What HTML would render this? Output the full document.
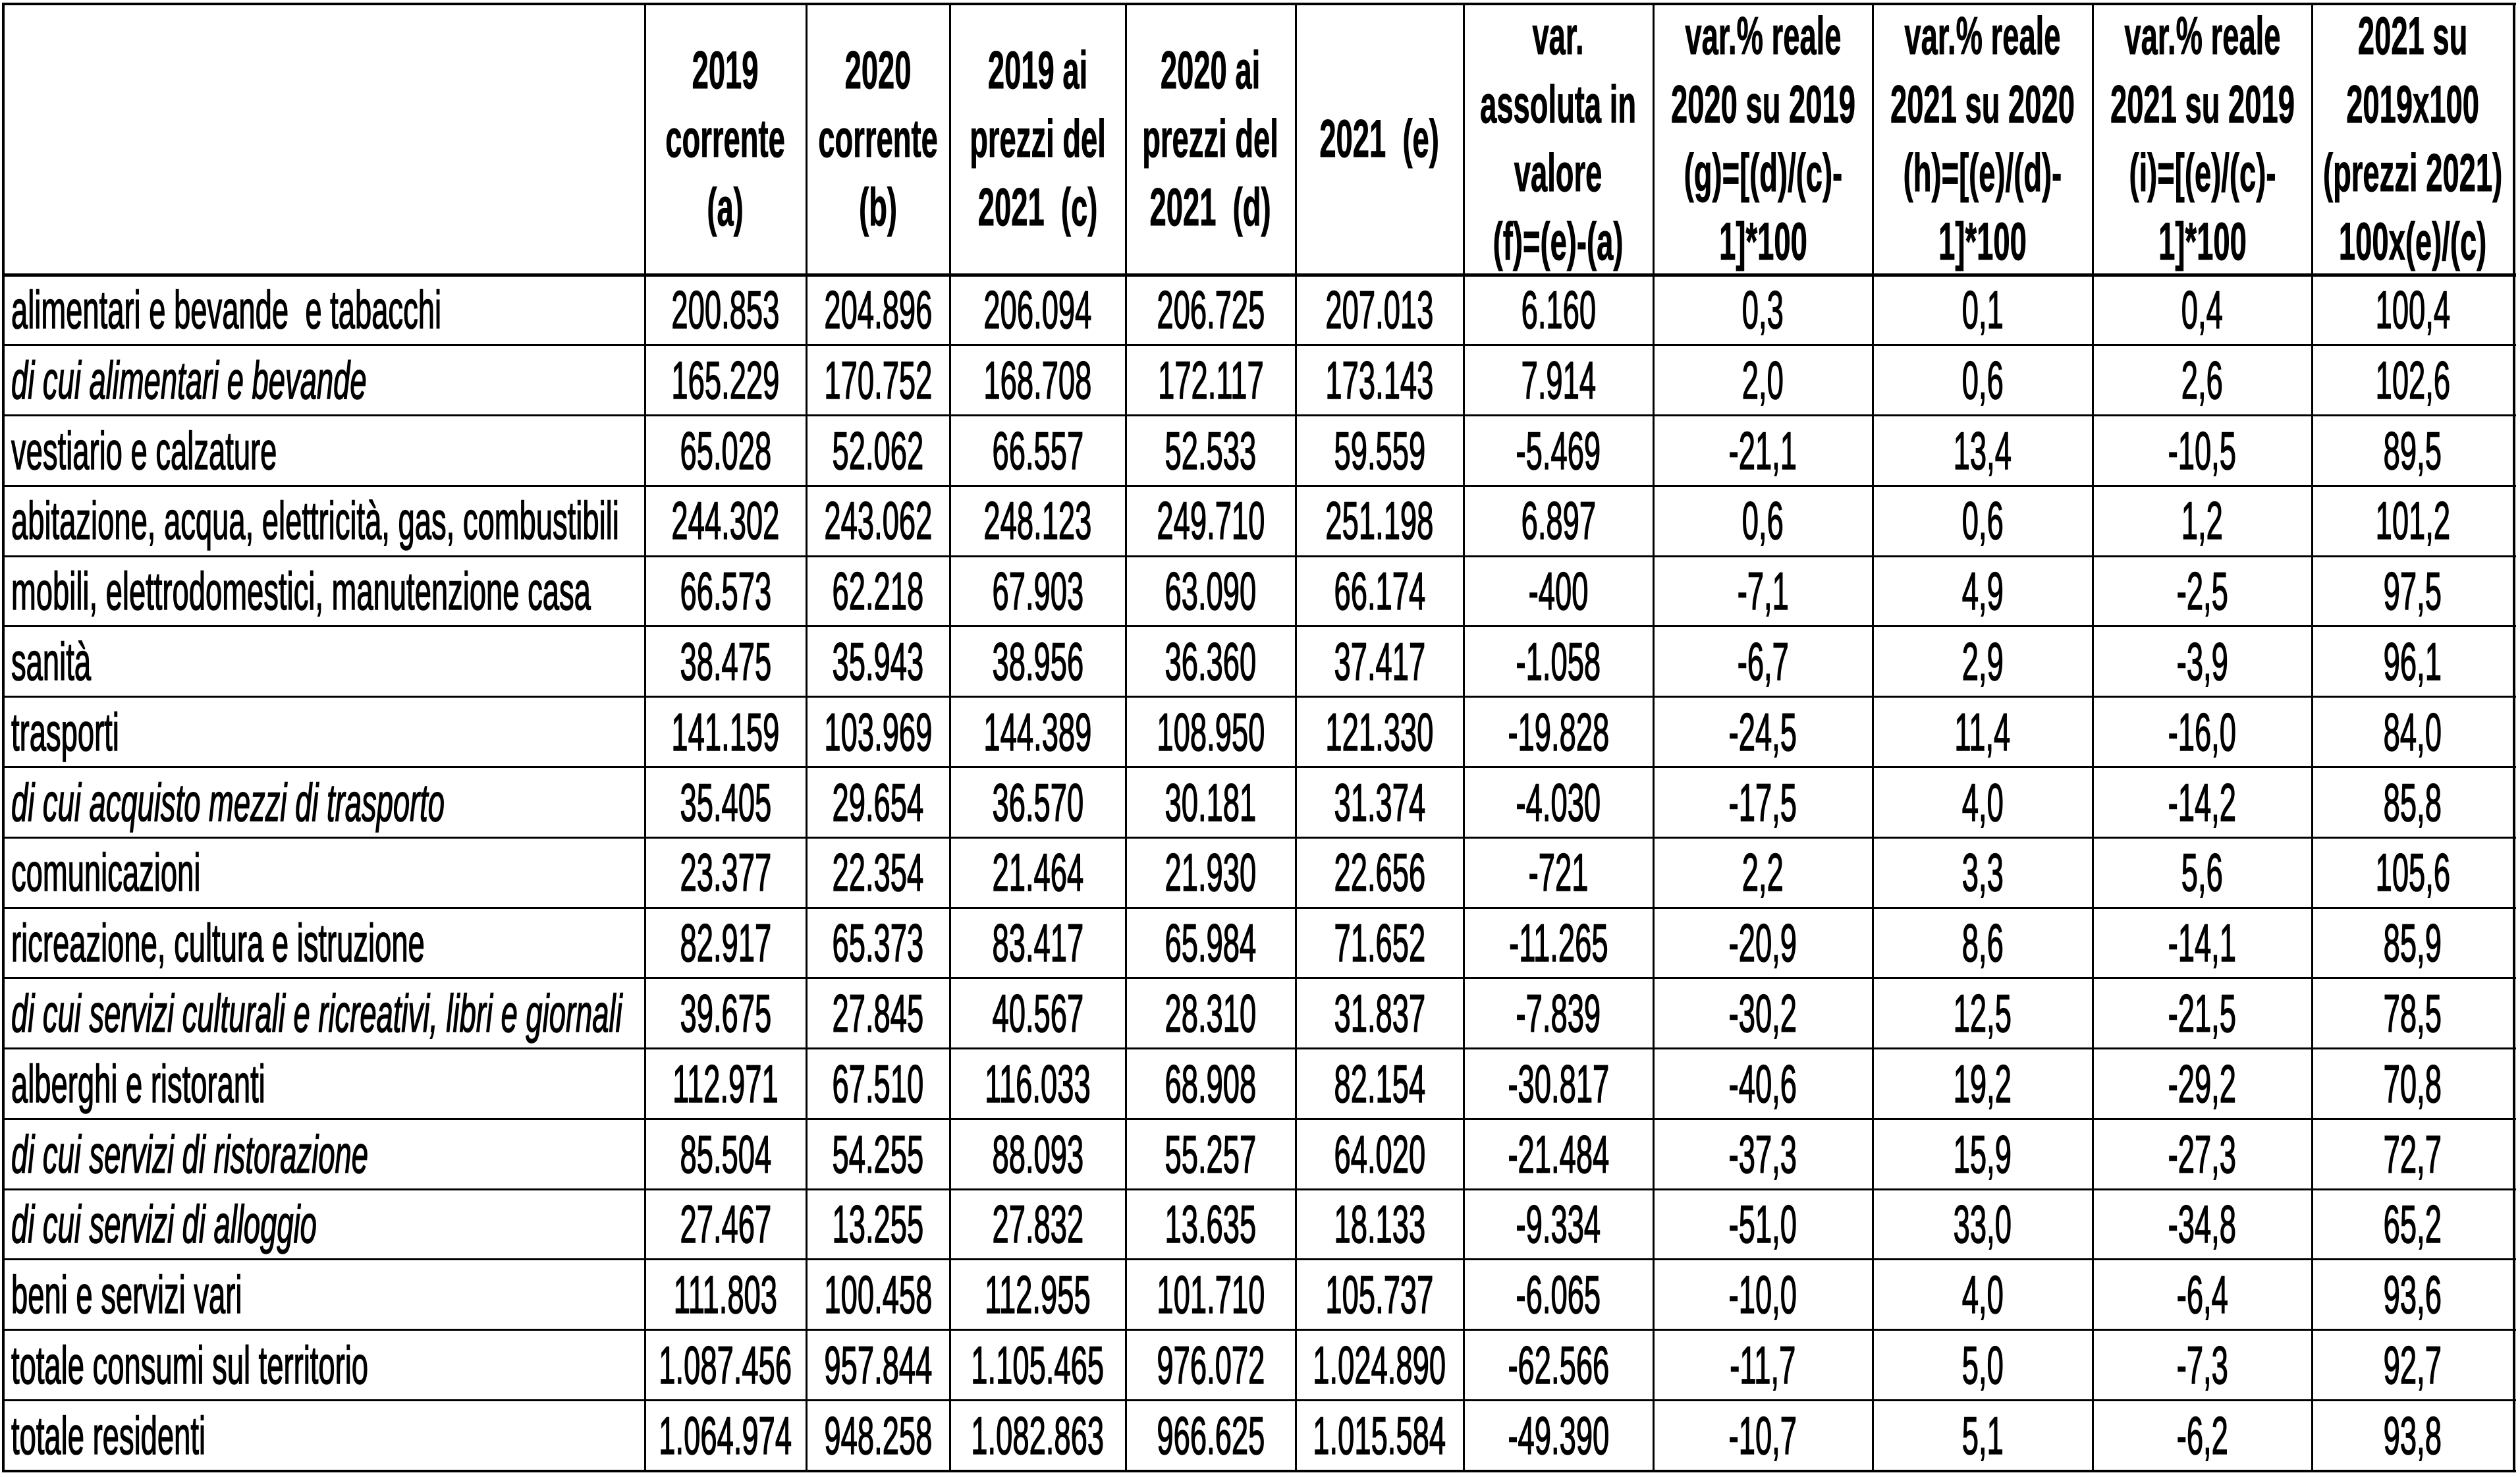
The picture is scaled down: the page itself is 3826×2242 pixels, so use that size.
<!DOCTYPE html>
<html><head><meta charset="utf-8"><style>
html,body{margin:0;padding:0;background:#fff;}
body{width:3826px;height:2242px;position:relative;overflow:hidden;font-family:"Liberation Sans",Arial,sans-serif;color:#000;}
.r{position:absolute;left:5px;display:flex;}
.c{display:flex;align-items:center;justify-content:center;height:100%;overflow:visible;}
.c span{display:inline-block;white-space:nowrap;transform:scaleX(0.56);font-size:81px;line-height:104px;text-align:center;-webkit-text-stroke:1.6px #000;}
.c.l{justify-content:flex-start;}
.c.l span{transform-origin:0 50%;margin-left:12px;}
.h span{font-weight:bold;-webkit-text-stroke:1px #000;}
.i span{font-style:italic;}
.v{position:absolute;top:5px;height:2230px;width:3px;background:#000;}
.hl{position:absolute;left:3px;width:3817px;height:3px;background:#000;}
.w0{width:974px}.w1{width:245px}.w2{width:218px}.w3{width:267px}.w4{width:258px}.w5{width:255px}.w6{width:288px}.w7{width:333px}.w8{width:334px}.w9{width:333px}.w10{width:306px}
</style></head><body>

<div class="r h" style="top:5px;height:412px;">
<div class="c w0"></div>
<div class="c w1"><span>2019<br>corrente<br>(a)</span></div>
<div class="c w2"><span>2020<br>corrente<br>(b)</span></div>
<div class="c w3"><span>2019 ai<br>prezzi del<br>2021&nbsp; (c)</span></div>
<div class="c w4"><span>2020 ai<br>prezzi del<br>2021&nbsp; (d)</span></div>
<div class="c w5"><span>2021&nbsp; (e)</span></div>
<div class="c w6"><span>var.<br>assoluta in<br>valore<br>(f)=(e)-(a)</span></div>
<div class="c w7"><span>var.% reale<br>2020 su 2019<br>(g)=[(d)/(c)-<br>1]*100</span></div>
<div class="c w8"><span>var.% reale<br>2021 su 2020<br>(h)=[(e)/(d)-<br>1]*100</span></div>
<div class="c w9"><span>var.% reale<br>2021 su 2019<br>(i)=[(e)/(c)-<br>1]*100</span></div>
<div class="c w10"><span>2021 su<br>2019x100<br>(prezzi 2021)<br>100x(e)/(c)</span></div>
</div>

<div class="r" style="top:417px;height:107px;"><div class="c l w0"><span>alimentari e bevande&nbsp; e tabacchi</span></div><div class="c w1"><span>200.853</span></div><div class="c w2"><span>204.896</span></div><div class="c w3"><span>206.094</span></div><div class="c w4"><span>206.725</span></div><div class="c w5"><span>207.013</span></div><div class="c w6"><span>6.160</span></div><div class="c w7"><span>0,3</span></div><div class="c w8"><span>0,1</span></div><div class="c w9"><span>0,4</span></div><div class="c w10"><span>100,4</span></div></div>
<div class="r" style="top:524px;height:107px;"><div class="c l w0 i"><span>di cui alimentari e bevande</span></div><div class="c w1"><span>165.229</span></div><div class="c w2"><span>170.752</span></div><div class="c w3"><span>168.708</span></div><div class="c w4"><span>172.117</span></div><div class="c w5"><span>173.143</span></div><div class="c w6"><span>7.914</span></div><div class="c w7"><span>2,0</span></div><div class="c w8"><span>0,6</span></div><div class="c w9"><span>2,6</span></div><div class="c w10"><span>102,6</span></div></div>
<div class="r" style="top:631px;height:107px;"><div class="c l w0"><span>vestiario e calzature</span></div><div class="c w1"><span>65.028</span></div><div class="c w2"><span>52.062</span></div><div class="c w3"><span>66.557</span></div><div class="c w4"><span>52.533</span></div><div class="c w5"><span>59.559</span></div><div class="c w6"><span>-5.469</span></div><div class="c w7"><span>-21,1</span></div><div class="c w8"><span>13,4</span></div><div class="c w9"><span>-10,5</span></div><div class="c w10"><span>89,5</span></div></div>
<div class="r" style="top:737px;height:107px;"><div class="c l w0"><span>abitazione, acqua, elettricità, gas, combustibili</span></div><div class="c w1"><span>244.302</span></div><div class="c w2"><span>243.062</span></div><div class="c w3"><span>248.123</span></div><div class="c w4"><span>249.710</span></div><div class="c w5"><span>251.198</span></div><div class="c w6"><span>6.897</span></div><div class="c w7"><span>0,6</span></div><div class="c w8"><span>0,6</span></div><div class="c w9"><span>1,2</span></div><div class="c w10"><span>101,2</span></div></div>
<div class="r" style="top:844px;height:107px;"><div class="c l w0"><span>mobili, elettrodomestici, manutenzione casa</span></div><div class="c w1"><span>66.573</span></div><div class="c w2"><span>62.218</span></div><div class="c w3"><span>67.903</span></div><div class="c w4"><span>63.090</span></div><div class="c w5"><span>66.174</span></div><div class="c w6"><span>-400</span></div><div class="c w7"><span>-7,1</span></div><div class="c w8"><span>4,9</span></div><div class="c w9"><span>-2,5</span></div><div class="c w10"><span>97,5</span></div></div>
<div class="r" style="top:951px;height:107px;"><div class="c l w0"><span>sanità</span></div><div class="c w1"><span>38.475</span></div><div class="c w2"><span>35.943</span></div><div class="c w3"><span>38.956</span></div><div class="c w4"><span>36.360</span></div><div class="c w5"><span>37.417</span></div><div class="c w6"><span>-1.058</span></div><div class="c w7"><span>-6,7</span></div><div class="c w8"><span>2,9</span></div><div class="c w9"><span>-3,9</span></div><div class="c w10"><span>96,1</span></div></div>
<div class="r" style="top:1058px;height:107px;"><div class="c l w0"><span>trasporti</span></div><div class="c w1"><span>141.159</span></div><div class="c w2"><span>103.969</span></div><div class="c w3"><span>144.389</span></div><div class="c w4"><span>108.950</span></div><div class="c w5"><span>121.330</span></div><div class="c w6"><span>-19.828</span></div><div class="c w7"><span>-24,5</span></div><div class="c w8"><span>11,4</span></div><div class="c w9"><span>-16,0</span></div><div class="c w10"><span>84,0</span></div></div>
<div class="r" style="top:1165px;height:107px;"><div class="c l w0 i"><span>di cui acquisto mezzi di trasporto</span></div><div class="c w1"><span>35.405</span></div><div class="c w2"><span>29.654</span></div><div class="c w3"><span>36.570</span></div><div class="c w4"><span>30.181</span></div><div class="c w5"><span>31.374</span></div><div class="c w6"><span>-4.030</span></div><div class="c w7"><span>-17,5</span></div><div class="c w8"><span>4,0</span></div><div class="c w9"><span>-14,2</span></div><div class="c w10"><span>85,8</span></div></div>
<div class="r" style="top:1271px;height:107px;"><div class="c l w0"><span>comunicazioni</span></div><div class="c w1"><span>23.377</span></div><div class="c w2"><span>22.354</span></div><div class="c w3"><span>21.464</span></div><div class="c w4"><span>21.930</span></div><div class="c w5"><span>22.656</span></div><div class="c w6"><span>-721</span></div><div class="c w7"><span>2,2</span></div><div class="c w8"><span>3,3</span></div><div class="c w9"><span>5,6</span></div><div class="c w10"><span>105,6</span></div></div>
<div class="r" style="top:1378px;height:107px;"><div class="c l w0"><span>ricreazione, cultura e istruzione</span></div><div class="c w1"><span>82.917</span></div><div class="c w2"><span>65.373</span></div><div class="c w3"><span>83.417</span></div><div class="c w4"><span>65.984</span></div><div class="c w5"><span>71.652</span></div><div class="c w6"><span>-11.265</span></div><div class="c w7"><span>-20,9</span></div><div class="c w8"><span>8,6</span></div><div class="c w9"><span>-14,1</span></div><div class="c w10"><span>85,9</span></div></div>
<div class="r" style="top:1485px;height:107px;"><div class="c l w0 i"><span>di cui servizi culturali e ricreativi, libri e giornali</span></div><div class="c w1"><span>39.675</span></div><div class="c w2"><span>27.845</span></div><div class="c w3"><span>40.567</span></div><div class="c w4"><span>28.310</span></div><div class="c w5"><span>31.837</span></div><div class="c w6"><span>-7.839</span></div><div class="c w7"><span>-30,2</span></div><div class="c w8"><span>12,5</span></div><div class="c w9"><span>-21,5</span></div><div class="c w10"><span>78,5</span></div></div>
<div class="r" style="top:1592px;height:107px;"><div class="c l w0"><span>alberghi e ristoranti</span></div><div class="c w1"><span>112.971</span></div><div class="c w2"><span>67.510</span></div><div class="c w3"><span>116.033</span></div><div class="c w4"><span>68.908</span></div><div class="c w5"><span>82.154</span></div><div class="c w6"><span>-30.817</span></div><div class="c w7"><span>-40,6</span></div><div class="c w8"><span>19,2</span></div><div class="c w9"><span>-29,2</span></div><div class="c w10"><span>70,8</span></div></div>
<div class="r" style="top:1699px;height:107px;"><div class="c l w0 i"><span>di cui servizi di ristorazione</span></div><div class="c w1"><span>85.504</span></div><div class="c w2"><span>54.255</span></div><div class="c w3"><span>88.093</span></div><div class="c w4"><span>55.257</span></div><div class="c w5"><span>64.020</span></div><div class="c w6"><span>-21.484</span></div><div class="c w7"><span>-37,3</span></div><div class="c w8"><span>15,9</span></div><div class="c w9"><span>-27,3</span></div><div class="c w10"><span>72,7</span></div></div>
<div class="r" style="top:1805px;height:107px;"><div class="c l w0 i"><span>di cui servizi di alloggio</span></div><div class="c w1"><span>27.467</span></div><div class="c w2"><span>13.255</span></div><div class="c w3"><span>27.832</span></div><div class="c w4"><span>13.635</span></div><div class="c w5"><span>18.133</span></div><div class="c w6"><span>-9.334</span></div><div class="c w7"><span>-51,0</span></div><div class="c w8"><span>33,0</span></div><div class="c w9"><span>-34,8</span></div><div class="c w10"><span>65,2</span></div></div>
<div class="r" style="top:1912px;height:107px;"><div class="c l w0"><span>beni e servizi vari</span></div><div class="c w1"><span>111.803</span></div><div class="c w2"><span>100.458</span></div><div class="c w3"><span>112.955</span></div><div class="c w4"><span>101.710</span></div><div class="c w5"><span>105.737</span></div><div class="c w6"><span>-6.065</span></div><div class="c w7"><span>-10,0</span></div><div class="c w8"><span>4,0</span></div><div class="c w9"><span>-6,4</span></div><div class="c w10"><span>93,6</span></div></div>
<div class="r" style="top:2019px;height:107px;"><div class="c l w0"><span>totale consumi sul territorio</span></div><div class="c w1"><span>1.087.456</span></div><div class="c w2"><span>957.844</span></div><div class="c w3"><span>1.105.465</span></div><div class="c w4"><span>976.072</span></div><div class="c w5"><span>1.024.890</span></div><div class="c w6"><span>-62.566</span></div><div class="c w7"><span>-11,7</span></div><div class="c w8"><span>5,0</span></div><div class="c w9"><span>-7,3</span></div><div class="c w10"><span>92,7</span></div></div>
<div class="r" style="top:2126px;height:107px;"><div class="c l w0"><span>totale residenti</span></div><div class="c w1"><span>1.064.974</span></div><div class="c w2"><span>948.258</span></div><div class="c w3"><span>1.082.863</span></div><div class="c w4"><span>966.625</span></div><div class="c w5"><span>1.015.584</span></div><div class="c w6"><span>-49.390</span></div><div class="c w7"><span>-10,7</span></div><div class="c w8"><span>5,1</span></div><div class="c w9"><span>-6,2</span></div><div class="c w10"><span>93,8</span></div></div>

<div class="v" style="left:3px;width:4px;"></div>
<div class="v" style="left:978px;"></div>
<div class="v" style="left:1223px;"></div>
<div class="v" style="left:1441px;"></div>
<div class="v" style="left:1708px;"></div>
<div class="v" style="left:1966px;"></div>
<div class="v" style="left:2221px;"></div>
<div class="v" style="left:2509px;"></div>
<div class="v" style="left:2842px;"></div>
<div class="v" style="left:3176px;"></div>
<div class="v" style="left:3509px;"></div>
<div class="v" style="left:3815px;width:4px;"></div>

<div class="hl" style="top:4px;height:4px;"></div>
<div class="hl" style="top:415px;height:5px;"></div>
<div class="hl" style="top:522px;"></div>
<div class="hl" style="top:629px;"></div>
<div class="hl" style="top:736px;"></div>
<div class="hl" style="top:843px;"></div>
<div class="hl" style="top:949px;"></div>
<div class="hl" style="top:1056px;"></div>
<div class="hl" style="top:1163px;"></div>
<div class="hl" style="top:1270px;"></div>
<div class="hl" style="top:1377px;"></div>
<div class="hl" style="top:1483px;"></div>
<div class="hl" style="top:1590px;"></div>
<div class="hl" style="top:1697px;"></div>
<div class="hl" style="top:1804px;"></div>
<div class="hl" style="top:1910px;"></div>
<div class="hl" style="top:2017px;"></div>
<div class="hl" style="top:2124px;"></div>
<div class="hl" style="top:2231px;height:4px;"></div>
</body></html>
